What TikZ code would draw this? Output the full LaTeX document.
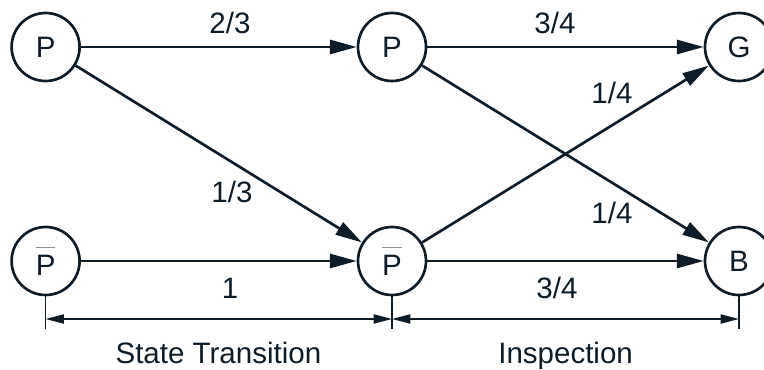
\documentclass[tikz,border=0pt]{standalone}
\usepackage{fontspec}
\setmainfont{Liberation Sans}
\usepackage{xcolor}
\usetikzlibrary{arrows.meta, positioning}
\definecolor{ink}{HTML}{0E1C28}
\definecolor{barGray}{HTML}{8A9097}
\newcommand{\notP}{$\color{barGray}\overline{\color{ink}\mbox{P\rule{0pt}{0.92em}}}$}

\begin{document}
\begin{tikzpicture}[
    every node/.style={font=\fontsize{21}{25}\selectfont, text=ink},
    circnode/.style={
        circle, draw=ink, line width=1.9pt, minimum size=1.7cm, inner sep=0pt,
    },
    problabel/.style={inner sep=0pt},
    transarrow/.style={
        draw=ink, line width=1.9pt, -{Triangle[length=19pt, width=10pt]},
    },
    dimline/.style={
        draw=ink, line width=1.1pt,
        {Triangle[length=13pt, width=6.5pt]}-{Triangle[length=13pt, width=6.5pt]},
    },
    tickline/.style={draw=ink, line width=1.1pt},
]

\useasboundingbox (0, 0) rectangle (19.1, 9.225);

\def\colA{1.14}
\def\colB{9.8}
\def\colC{18.475}
\def\rowT{8.05}
\def\rowB{2.7}

% ── States ─────────────────────────────────────────────────────────────
\node[circnode] (p1)  at (\colA, \rowT) {P};
\node[circnode] (p2)  at (\colB, \rowT) {P};
\node[circnode] (g)   at (\colC, \rowT) {G};
\node[circnode] (np1) at (\colA, \rowB) {\notP};
\node[circnode] (np2) at (\colB, \rowB) {\notP};
\node[circnode] (b)   at (\colC, \rowB) {B};

% ── State transition ───────────────────────────────────────────────────
\draw[transarrow] (p1) -- (p2);
\draw[transarrow] (p1) -- (np2);
\draw[transarrow] (np1) -- (np2);

\node[problabel] (l23) at (5.75, 8.65) {2/3};
\node[problabel] (l13) at (5.8, 4.425) {1/3};
\node[problabel] (l1)  at (5.75, 2.025) {1};

% ── Inspection ─────────────────────────────────────────────────────────
\draw[transarrow] (p2) -- (g);
\draw[transarrow] (p2) -- (b);
\draw[transarrow] (np2) -- (g);
\draw[transarrow] (np2) -- (b);

\node[problabel] (l34t) at (13.875, 8.65) {3/4};
\node[problabel] (l14t) at (15.3, 6.9) {1/4};
\node[problabel] (l14b) at (15.3, 3.9) {1/4};
\node[problabel] (l34b) at (13.925, 2.025) {3/4};

% ── Dimension lines ────────────────────────────────────────────────────
\coordinate (tA) at (\colA, 1.0);
\coordinate (tB) at (\colB, 1.0);
\coordinate (tC) at (\colC, 1.0);
\coordinate (dA) at (\colA, 1.25);
\coordinate (dB) at (\colB, 1.25);
\coordinate (dC) at (\colC, 1.25);

\draw[tickline] (np1.south) -- (tA);
\draw[tickline] (np2.south) -- (tB);
\draw[tickline] (b.south) -- (tC);
\draw[dimline] (dA) -- (dB);
\draw[dimline] (dB) -- (dC);

\node[anchor=base] (capST) at (5.46, 0.15) {State Transition};
\node[anchor=base] (capIN) at (14.14, 0.15) {Inspection};

\end{tikzpicture}
\end{document}
